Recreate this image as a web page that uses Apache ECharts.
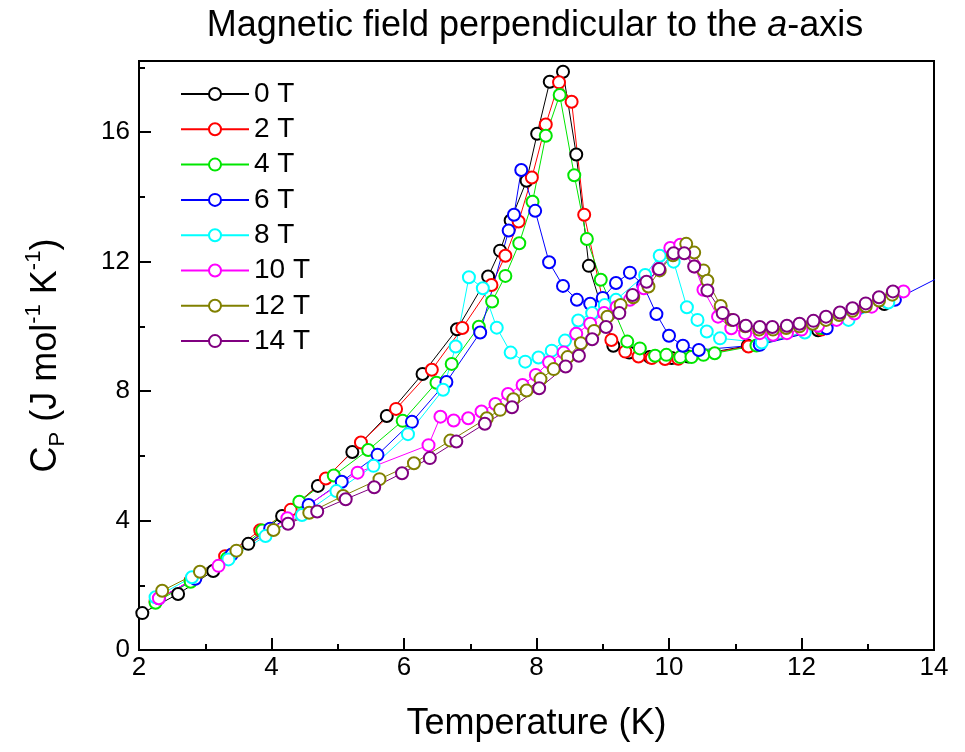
<!DOCTYPE html>
<html>
<head>
<meta charset="utf-8">
<script src="https://cdn.jsdelivr.net/npm/echarts@6/dist/echarts.min.js"></script>
<style>
  html, body { margin: 0; padding: 0; background: #fff; }
  #chart { width: 965px; height: 752px; }
</style>
</head>
<body>
<div id="chart"></div>
<script>
// Heat capacity C_P(T) of the sample in fields applied perpendicular to the a-axis
const fieldNames = ['0 T', '2 T', '4 T', '6 T', '8 T', '10 T', '12 T', '14 T'];
const fieldColors = ['#000000', '#ff0000', '#00e600', '#0000ff', '#00ffff', '#ff00ff', '#808000', '#800080'];

const xTicks = { min: 2, max: 14, step: 2 };
const yTicks = { min: 0, max: 18.2, step: 4 };

// 0 T
const temp0 = [2.05, 2.59, 3.12, 3.65, 4.16, 4.70, 5.22, 5.74, 6.28, 6.80, 7.27, 7.45, 7.61, 7.85, 8.01, 8.20, 8.40, 8.60, 8.79, 9.16, 9.40, 9.71, 10.04, 10.29, 11.19, 12.25, 13.25];
const cp0 = [1.14, 1.73, 2.44, 3.28, 4.14, 5.07, 6.12, 7.23, 8.53, 9.91, 11.54, 12.34, 13.27, 14.50, 15.95, 17.56, 17.87, 15.31, 11.87, 9.40, 9.19, 9.05, 9.02, 9.07, 9.40, 9.88, 10.69];

// 2 T
const temp2 = [2.25, 2.78, 3.30, 3.83, 4.29, 4.82, 5.35, 5.88, 6.42, 6.88, 7.32, 7.53, 7.73, 7.93, 8.14, 8.34, 8.53, 8.72, 9.13, 9.34, 9.54, 9.74, 9.94, 10.14, 11.20, 12.30, 13.30];
const cp2 = [1.50, 2.15, 2.90, 3.70, 4.33, 5.30, 6.41, 7.45, 8.66, 9.95, 11.28, 12.18, 13.24, 14.60, 16.24, 17.54, 16.94, 13.45, 9.58, 9.22, 9.07, 9.02, 8.99, 9.00, 9.38, 9.90, 10.75];

// 4 T
const temp4 = [2.25, 2.78, 3.33, 3.86, 4.42, 4.94, 5.46, 5.98, 6.49, 6.72, 7.13, 7.33, 7.53, 7.74, 7.94, 8.14, 8.35, 8.57, 8.76, 8.97, 9.37, 9.56, 9.79, 9.96, 10.17, 10.34, 10.52, 10.69, 11.32, 12.30, 13.30];
const cp4 = [1.46, 2.11, 2.83, 3.69, 4.58, 5.39, 6.18, 7.08, 8.26, 8.84, 9.99, 10.77, 11.56, 12.57, 13.85, 15.89, 17.15, 14.67, 12.70, 11.44, 9.53, 9.32, 9.09, 9.12, 9.05, 9.05, 9.12, 9.17, 9.41, 9.95, 10.80];

// 6 T
const temp6 = [2.30, 2.85, 3.40, 3.98, 4.56, 5.06, 5.60, 6.12, 6.64, 7.15, 7.58, 7.66, 7.77, 7.98, 8.19, 8.40, 8.61, 8.81, 9.00, 9.20, 9.41, 9.61, 9.81, 10.00, 10.21, 10.45, 11.37, 12.38, 13.41, 14.40];
const cp6 = [1.60, 2.20, 2.95, 3.75, 4.48, 5.20, 6.03, 7.05, 8.28, 9.81, 12.96, 13.45, 14.83, 13.57, 11.98, 11.25, 10.82, 10.70, 10.88, 11.34, 11.66, 11.28, 10.38, 9.71, 9.40, 9.27, 9.43, 9.94, 10.82, 11.85];

// 8 T
const temp8 = [2.25, 2.80, 3.35, 3.91, 4.46, 4.98, 5.54, 6.06, 6.59, 6.78, 6.98, 7.19, 7.40, 7.61, 7.83, 8.03, 8.23, 8.43, 8.63, 8.84, 9.03, 9.20, 9.64, 9.86, 10.07, 10.27, 10.43, 10.57, 10.77, 11.40, 12.05, 12.71, 13.31];
const cp8 = [1.63, 2.25, 2.80, 3.52, 4.17, 4.91, 5.69, 6.67, 8.04, 9.38, 11.52, 11.18, 9.96, 9.19, 8.91, 9.04, 9.25, 9.56, 10.18, 10.41, 10.66, 10.82, 11.59, 12.18, 12.00, 10.59, 10.20, 9.84, 9.63, 9.50, 9.81, 10.20, 10.74];

// 10 T
const temp10 = [2.30, 3.20, 4.24, 5.30, 6.37, 6.55, 6.75, 6.97, 7.17, 7.38, 7.57, 7.79, 7.99, 8.19, 8.41, 8.60, 8.81, 9.02, 9.21, 9.41, 9.62, 9.84, 10.02, 10.17, 10.39, 10.52, 10.74, 10.94, 11.15, 11.37, 11.57, 11.78, 12.00, 12.25, 12.53, 12.80, 13.06, 13.54];
const cp10 = [1.60, 2.60, 4.07, 5.48, 6.33, 7.21, 7.09, 7.16, 7.37, 7.60, 7.91, 8.19, 8.50, 8.89, 9.19, 9.77, 10.08, 10.41, 10.60, 10.82, 11.18, 11.77, 12.42, 12.52, 11.85, 11.13, 10.30, 9.94, 9.79, 9.79, 9.74, 9.79, 9.90, 10.02, 10.20, 10.40, 10.61, 11.08];

// 12 T
const temp12 = [2.35, 2.92, 3.47, 4.03, 4.57, 5.08, 5.63, 6.15, 6.70, 7.25, 7.45, 7.65, 7.85, 8.06, 8.26, 8.47, 8.67, 8.87, 9.07, 9.27, 9.46, 9.69, 9.86, 10.06, 10.26, 10.38, 10.52, 10.58, 10.78, 10.94, 11.15, 11.36, 11.57, 11.77, 11.97, 12.17, 12.37, 12.57, 12.77, 12.97, 13.17, 13.37];
const cp12 = [1.83, 2.42, 3.07, 3.71, 4.24, 4.76, 5.28, 5.77, 6.47, 7.16, 7.42, 7.75, 8.02, 8.37, 8.68, 9.05, 9.48, 9.86, 10.30, 10.66, 10.90, 11.23, 11.73, 12.20, 12.55, 12.28, 11.73, 11.41, 10.63, 10.20, 10.00, 9.90, 9.90, 9.95, 10.00, 10.08, 10.20, 10.35, 10.48, 10.62, 10.80, 10.98];

// 14 T
const temp14 = [4.25, 4.69, 5.12, 5.55, 5.97, 6.39, 6.79, 7.22, 7.63, 8.04, 8.44, 8.64, 8.84, 9.05, 9.25, 9.45, 9.66, 9.85, 10.07, 10.23, 10.38, 10.58, 10.81, 10.97, 11.16, 11.37, 11.56, 11.78, 11.97, 12.18, 12.37, 12.58, 12.77, 12.97, 13.17, 13.38];
const cp14 = [3.90, 4.28, 4.66, 5.03, 5.46, 5.93, 6.44, 6.99, 7.50, 8.09, 8.76, 9.09, 9.60, 9.98, 10.41, 10.97, 11.38, 11.77, 12.26, 12.26, 11.85, 11.11, 10.41, 10.20, 10.02, 9.98, 9.98, 10.02, 10.08, 10.17, 10.30, 10.43, 10.56, 10.71, 10.90, 11.08];

const temps = [temp0, temp2, temp4, temp6, temp8, temp10, temp12, temp14];
const cps = [cp0, cp2, cp4, cp6, cp8, cp10, cp12, cp14];

const FONT = 'Liberation Sans, Arial, sans-serif';

const series = fieldNames.map((name, i) => ({
  name: name,
  type: 'line',
  data: temps[i].map((t, k) => [t, cps[i][k]]),
  symbol: 'emptyCircle',
  symbolSize: 12,
  showAllSymbol: true,
  clip: true,
  lineStyle: { color: fieldColors[i], width: 1 },
  itemStyle: { color: fieldColors[i], borderColor: fieldColors[i], borderWidth: 1.5 },
  emphasis: { disabled: true }
}));

const chart = echarts.init(document.getElementById('chart'), null, { renderer: 'canvas' });
chart.setOption({
  animation: false,
  backgroundColor: '#ffffff',
  title: {
    text: 'Magnetic field perpendicular to the {i|a}-axis',
    left: 530,
    top: 3,
    textAlign: 'center',
    textStyle: {
      fontFamily: FONT, fontSize: 36, fontWeight: 'normal', color: '#000',
      rich: { i: { fontFamily: FONT, fontSize: 36, fontStyle: 'italic', color: '#000' } }
    }
  },
  legend: {
    orient: 'vertical',
    left: 175,
    top: 75,
    itemWidth: 68,
    itemHeight: 15,
    itemGap: 7.3,
    textStyle: { fontFamily: FONT, fontSize: 28, color: '#000' },
    data: fieldNames
  },
  grid: {
    left: 139, right: 31, top: 61, bottom: 102,
    show: true, borderColor: '#000', borderWidth: 2, backgroundColor: 'transparent'
  },
  xAxis: {
    type: 'value',
    min: xTicks.min, max: xTicks.max, interval: xTicks.step,
    name: 'Temperature (K)',
    nameLocation: 'middle',
    nameGap: 56,
    nameTextStyle: { fontFamily: FONT, fontSize: 36, color: '#000' },
    axisLine: { show: true, lineStyle: { color: '#000', width: 2 } },
    axisTick: { show: true, inside: true, length: 12, lineStyle: { color: '#000', width: 2 } },
    minorTick: { show: true, splitNumber: 2, length: 6, lineStyle: { color: '#000', width: 2 } },
    splitLine: { show: false },
    axisLabel: { fontFamily: FONT, fontSize: 26, color: '#000', margin: 5 }
  },
  yAxis: {
    type: 'value',
    min: yTicks.min, max: yTicks.max, interval: yTicks.step,
    name: '{b|C}{sub|P}{b| (J mol}{sup|-1}{b| K}{sup|-1}{b|)}',
    nameLocation: 'middle',
    nameRotate: 90,
    nameGap: 70,
    nameTextStyle: {
      fontFamily: FONT, fontSize: 36, color: '#000',
      rich: {
        b: { fontFamily: FONT, fontSize: 36, color: '#000', lineHeight: 46 },
        sub: { fontFamily: FONT, fontSize: 22, color: '#000', verticalAlign: 'bottom', lineHeight: 36 },
        sup: { fontFamily: FONT, fontSize: 22, color: '#000', verticalAlign: 'top', lineHeight: 36 }
      }
    },
    axisLine: { show: true, lineStyle: { color: '#000', width: 2 } },
    axisTick: { show: true, inside: true, length: 12, lineStyle: { color: '#000', width: 2 } },
    minorTick: { show: true, splitNumber: 2, length: 6, lineStyle: { color: '#000', width: 2 } },
    splitLine: { show: false },
    axisLabel: { fontFamily: FONT, fontSize: 26, color: '#000', margin: 9, showMaxLabel: false }
  },
  series: series
});
</script>
</body>
</html>
